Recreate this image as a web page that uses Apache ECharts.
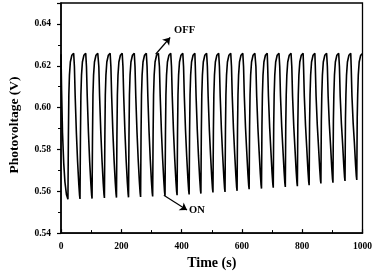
<!DOCTYPE html>
<html>
<head>
<meta charset="utf-8">
<script src="https://cdn.jsdelivr.net/npm/echarts@6/dist/echarts.min.js"></script>
<style>html,body{margin:0;padding:0;background:#fff}#c{width:375px;height:275px}</style>
</head>
<body>
<div id="c"></div>
<script>
// Time (s) / photovoltage (V) pairs
var photovoltage = [
[0,0.6255],[2,0.608],[5,0.588],[9,0.5735],[13,0.5645],[18,0.5585],
[23,0.5562],[24.5,0.5862],[26,0.606],[28,0.6155],[31,0.6218],[36,0.625],[42,0.626],
[44.5,0.6195],[47,0.6055],[51,0.5880],[55,0.5743],[59,0.5635],[61.5,0.5581],
[63,0.5563],[64.5,0.5863],[66,0.606],[68,0.6155],[71,0.6218],[76,0.625],[82,0.626],
[84.5,0.6195],[87,0.6055],[91,0.5882],[95,0.5745],[99,0.5637],[101.5,0.5583],
[103,0.5565],[104.5,0.5865],[106,0.606],[108,0.6155],[111,0.6218],[116,0.625],[122,0.626],
[125.5,0.6195],[128,0.6055],[132,0.5883],[136,0.5748],[140,0.5640],[142.5,0.5586],
[144,0.5568],[145.5,0.5868],[147,0.606],[149,0.6155],[152,0.6218],[157,0.625],[163,0.626],
[165.5,0.6195],[168,0.6055],[172,0.5884],[176,0.5750],[180,0.5642],[182.5,0.5588],
[184,0.5570],[185.5,0.5870],[187,0.606],[189,0.6155],[192,0.6218],[197,0.625],[203,0.626],
[205.5,0.6195],[208,0.6055],[212,0.5885],[216,0.5751],[220,0.5643],[222.5,0.5589],
[224,0.5571],[225.5,0.5871],[227,0.606],[229,0.6155],[232,0.6218],[237,0.625],[243,0.626],
[245.5,0.6195],[248,0.6055],[252,0.5886],[256,0.5753],[260,0.5645],[262.5,0.5591],
[264,0.5573],[265.5,0.5873],[267,0.606],[269,0.6155],[272,0.6218],[277,0.625],[283,0.626],
[285.5,0.6195],[288,0.6055],[292,0.5887],[296,0.5755],[300,0.5647],[302.5,0.5593],
[304,0.5575],[305.5,0.5875],[307,0.606],[309,0.6155],[312,0.6218],[317,0.625],[323,0.626],
[326.5,0.6195],[329,0.6055],[333,0.5888],[337,0.5758],[341,0.5650],[343.5,0.5596],
[345,0.5578],[346.5,0.5878],[348,0.606],[350,0.6155],[353,0.6218],[358,0.625],[364,0.626],
[366.5,0.6195],[369,0.6055],[373,0.5890],[377,0.5761],[381,0.5653],[383.5,0.5599],
[385,0.5581],[386.5,0.5881],[388,0.606],[390,0.6155],[393,0.6218],[398,0.625],[404,0.626],
[406.5,0.6195],[409,0.6055],[413,0.5892],[417,0.5765],[421,0.5657],[423.5,0.5603],
[425,0.5585],[426.5,0.5885],[428,0.606],[430,0.6155],[433,0.6218],[438,0.625],[444,0.626],
[445.5,0.6195],[448,0.6055],[452,0.5894],[456,0.5769],[460,0.5661],[462.5,0.5607],
[464,0.5589],[465.5,0.5889],[467,0.606],[469,0.6155],[472,0.6218],[477,0.625],[483,0.626],
[485.5,0.6195],[488,0.6055],[492,0.5896],[496,0.5774],[500,0.5666],[502.5,0.5612],
[504,0.5594],[505.5,0.5894],[507,0.606],[509,0.6155],[512,0.6218],[517,0.625],[523,0.626],
[525.5,0.6195],[528,0.6055],[532,0.5898],[536,0.5777],[540,0.5669],[542.5,0.5615],
[544,0.5597],[545.5,0.5897],[547,0.606],[549,0.6155],[552,0.6218],[557,0.625],[563,0.626],
[565.5,0.6195],[568,0.6055],[572,0.5900],[576,0.5782],[580,0.5674],[582.5,0.5620],
[584,0.5602],[585.5,0.5902],[587,0.606],[589,0.6155],[592,0.6218],[597,0.625],[603,0.626],
[605.5,0.6195],[608,0.6055],[612,0.5904],[616,0.5790],[620,0.5682],[622.5,0.5628],
[624,0.5610],[625.5,0.5910],[627,0.606],[629,0.6155],[632,0.6218],[637,0.625],[643,0.626],
[646.5,0.6195],[649,0.6055],[653,0.5906],[657,0.5793],[661,0.5685],[663.5,0.5631],
[665,0.5613],[666.5,0.5913],[668,0.606],[670,0.6155],[673,0.6218],[678,0.625],[684,0.626],
[685.5,0.6195],[688,0.6055],[692,0.5908],[696,0.5797],[700,0.5689],[702.5,0.5635],
[704,0.5617],[705.5,0.5917],[707,0.606],[709,0.6155],[712,0.6218],[717,0.625],[723,0.626],
[725.5,0.6195],[728,0.6055],[732,0.5910],[736,0.5801],[740,0.5693],[742.5,0.5639],
[744,0.5621],[745.5,0.5921],[747,0.606],[749,0.6155],[752,0.6218],[757,0.625],[763,0.626],
[765.5,0.6195],[768,0.6055],[772,0.5911],[776,0.5804],[780,0.5696],[782.5,0.5642],
[784,0.5624],[785.5,0.5924],[787,0.606],[789,0.6155],[792,0.6218],[797,0.625],[803,0.626],
[804.5,0.6195],[807,0.6055],[811,0.5914],[815,0.5809],[819,0.5701],[821.5,0.5647],
[823,0.5629],[824.5,0.5929],[826,0.606],[828,0.6155],[831,0.6218],[836,0.625],[842,0.626],
[843.5,0.6195],[846,0.6055],[850,0.5918],[854,0.5817],[858,0.5709],[860.5,0.5655],
[862,0.5637],[863.5,0.5937],[865,0.606],[867,0.6155],[870,0.6218],[875,0.625],[881,0.626],
[883.5,0.6195],[886,0.6055],[890,0.5920],[894,0.5821],[898,0.5713],[900.5,0.5659],
[902,0.5641],[903.5,0.5941],[905,0.606],[907,0.6155],[910,0.6218],[915,0.625],[921,0.626],
[923.5,0.6195],[926,0.6055],[930,0.5924],[934,0.5829],[938,0.5721],[940.5,0.5667],
[942,0.5649],[943.5,0.5949],[945,0.606],[947,0.6155],[950,0.6218],[955,0.625],[961,0.626],
[962.5,0.6195],[965,0.6055],[969,0.5926],[973,0.5834],[977,0.5726],[979.5,0.5672],
[981,0.5654],[982.5,0.5954],[984,0.606],[986,0.6155],[989,0.6218],[994,0.625],[1000,0.6258]
];
var xTicks = [0, 200, 400, 600, 800, 1000];
var yTicks = [0.54, 0.56, 0.58, 0.60, 0.62, 0.64];
var xAxisName = 'Time (s)';
var yAxisName = 'Photovoltage (V)';
// annotations: [from, to] in data units, and label anchor
var offArrow = [[314, 0.6255], [362, 0.6335]];
var offLabel = ['OFF', 410, 0.6371];
var onArrow = [[341, 0.5581], [418, 0.5510]];
var onLabel = ['ON', 451, 0.5507];

var FONT = '"Liberation Serif", "DejaVu Serif", serif';
var chart = echarts.init(document.getElementById('c'), null, {renderer: 'canvas'});
chart.setOption({
  animation: false,
  backgroundColor: '#fff',
  grid: {left: 53, right: 11, top: 3, bottom: 41, show: true, borderColor: '#000', borderWidth: 1.3, backgroundColor: 'transparent'},
  xAxis: {
    type: 'value', min: xTicks[0], max: xTicks[xTicks.length - 1], interval: 200,
    name: xAxisName, nameLocation: 'middle', nameGap: 22,
    nameTextStyle: {fontFamily: FONT, fontWeight: 'bold', fontSize: 14, color: '#000'},
    axisLine: {lineStyle: {color: '#000', width: 1.5}},
    axisTick: {inside: true, length: 4, lineStyle: {color: '#000', width: 1.2}},
    minorTick: {show: true, splitNumber: 2, length: 3, lineStyle: {color: '#000', width: 1}},
    axisLabel: {fontFamily: FONT, fontWeight: 'bold', fontSize: 9.5, color: '#000', margin: 8,
      formatter: function (v) { return String(v); }},
    splitLine: {show: false}
  },
  yAxis: {
    type: 'value', min: yTicks[0], max: 0.65, interval: 0.02,
    name: yAxisName, nameLocation: 'middle', nameGap: 39,
    nameTextStyle: {fontFamily: FONT, fontWeight: 'bold', fontSize: 13.5, color: '#000', padding: [0, 14, 0, 0]},
    axisLine: {lineStyle: {color: '#000', width: 1.5}},
    axisTick: {inside: false, length: 4, lineStyle: {color: '#000', width: 1.2}},
    minorTick: {show: true, splitNumber: 2, length: 3, lineStyle: {color: '#000', width: 1}},
    axisLabel: {fontFamily: FONT, fontWeight: 'bold', fontSize: 9.5, color: '#000', margin: 10, showMaxLabel: false,
      formatter: function (v) { return v > 0.645 ? '' : v.toFixed(2); }},
    splitLine: {show: false}
  },
  series: [{
    type: 'line', data: photovoltage, showSymbol: false, smooth: false,
    lineStyle: {color: '#000', width: 1.6}, clip: true,
    markLine: {
      silent: true, symbol: ['none', 'arrow'], symbolSize: [7, 7],
      lineStyle: {color: '#000', width: 1.2, type: 'solid'}, label: {show: false},
      data: [
        [{coord: offArrow[0]}, {coord: offArrow[1]}],
        [{coord: onArrow[0]}, {coord: onArrow[1]}]
      ]
    },
    markPoint: {
      silent: true, symbol: 'circle', symbolSize: 0,
      label: {show: true, position: 'inside', fontFamily: FONT, fontWeight: 'bold', fontSize: 10.5, color: '#000',
        formatter: function (p) { return p.name; }},
      data: [
        {name: offLabel[0], coord: [offLabel[1], offLabel[2]]},
        {name: onLabel[0], coord: [onLabel[1], onLabel[2]]}
      ]
    }
  }]
});
</script>
</body>
</html>
